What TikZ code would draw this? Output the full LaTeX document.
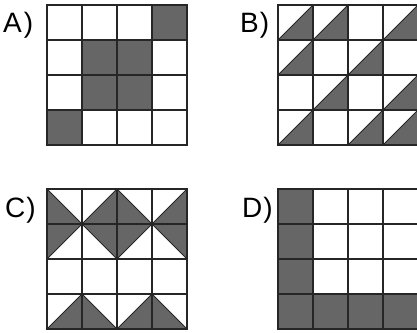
\documentclass[tikz,border=0pt]{standalone}
\usepackage{fontspec}
\setmainfont{Liberation Sans}
\definecolor{shadegray}{HTML}{666666}
\definecolor{linegray}{HTML}{262626}
\newcommand\cellsq[2]{\fill[shadecell] ({#2*35},{#1*35}) rectangle ++(35,35);}
\newcommand\triBR[2]{\filldraw[shadetri] ({#2*35},{#1*35+35}) -- ++(35,0) -- ++(0,-35) -- cycle;}
\newcommand\triBL[2]{\filldraw[shadetri] ({#2*35},{#1*35}) -- ++(0,35) -- ++(35,0) -- cycle;}
\newcommand\triTL[2]{\filldraw[shadetri] ({#2*35},{#1*35}) -- ++(35,0) -- ++(-35,35) -- cycle;}
\newcommand\triTR[2]{\filldraw[shadetri] ({#2*35},{#1*35}) -- ++(35,0) -- ++(0,35) -- cycle;}
\newcommand\gridlines{\foreach \i in {0,...,4} {\draw[gridline] ({\i*35},0) -- ({\i*35},140); \draw[gridline] (0,{\i*35}) -- (140,{\i*35});}}
\begin{document}
\begin{tikzpicture}[x=1pt,y=-1pt,
  shadecell/.style={fill=shadegray},
  shadetri/.style={fill=shadegray,draw=linegray,line width=0.8pt,line join=miter},
  gridline/.style={draw=linegray,line width=1.3pt,line cap=rect},
  panellabel/.style={anchor=base west,inner sep=0pt,font=\fontsize{28}{28}\selectfont}]
\useasboundingbox (0,0) rectangle (417,332);
% A
\begin{scope}[shift={(47,5)}]
\cellsq{0}{3}\cellsq{1}{1}\cellsq{1}{2}\cellsq{2}{1}\cellsq{2}{2}\cellsq{3}{0}
\gridlines
\end{scope}
% B
\begin{scope}[shift={(278,5)}]
\triBR{0}{0}\triBR{0}{1}\triBR{0}{3}
\triBR{1}{0}\triBR{1}{2}
\triBR{2}{1}\triBR{2}{3}
\triBR{3}{0}\triBR{3}{2}\triBR{3}{3}
\gridlines
\end{scope}
% C
\begin{scope}[shift={(47,189)}]
\triBL{0}{0}\triBR{0}{1}\triBL{0}{2}\triBR{0}{3}
\triTL{1}{0}\triTR{1}{1}\triTL{1}{2}\triTR{1}{3}
\triBR{3}{0}\triBL{3}{1}\triBR{3}{2}\triBL{3}{3}
\gridlines
\end{scope}
% D
\begin{scope}[shift={(278,189)}]
\cellsq{0}{0}\cellsq{1}{0}\cellsq{2}{0}\cellsq{3}{0}\cellsq{3}{1}\cellsq{3}{2}\cellsq{3}{3}
\gridlines
\end{scope}
\node[panellabel] (la) at (3,32) {A\kern2pt)};
\node[panellabel] (lb) at (240,32) {B\kern1pt)};
\node[panellabel] (lc) at (5,217.5) {C\kern1pt)};
\node[panellabel] (ld) at (242,217) {D\kern1pt)};
\end{tikzpicture}
\end{document}
